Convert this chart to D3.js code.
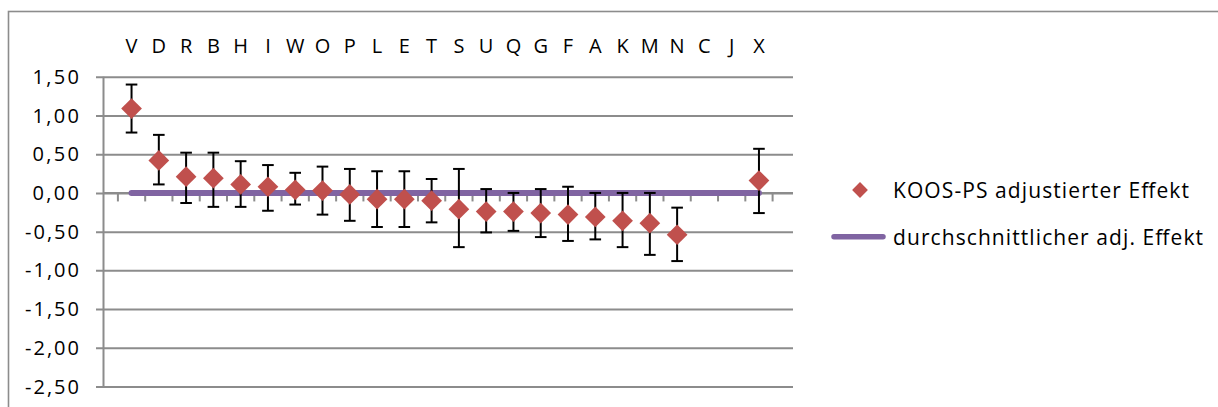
<!DOCTYPE html>
<html>
<head>
<meta charset="utf-8">
<script src="https://cdn.jsdelivr.net/npm/d3@7"></script>
<style>
  html, body { margin: 0; padding: 0; background: #fff; }
  svg { display: block; }
  text { font-family: "Open Sans", "Liberation Sans", sans-serif; fill: #000; }
</style>
</head>
<body>
<svg id="chart" width="1218" height="407"></svg>
<script>
// ---- data ----
const categories = ["V","D","R","B","H","I","W","O","P","L","E","T","S","U","Q","G","F","A","K","M","N","C","J","X"];
const effect = [1.09,0.42,0.21,0.19,0.11,0.08,0.04,0.03,-0.02,-0.08,-0.08,-0.10,-0.21,-0.24,-0.24,-0.26,-0.28,-0.31,-0.36,-0.39,-0.54,null,null,0.16];
const upperCI = [1.40,0.75,0.52,0.52,0.41,0.36,0.26,0.34,0.31,0.28,0.28,0.18,0.31,0.05,0.00,0.05,0.08,0.00,0.00,0.00,-0.19,null,null,0.57];
const lowerCI = [0.78,0.11,-0.13,-0.18,-0.18,-0.23,-0.15,-0.28,-0.36,-0.44,-0.44,-0.38,-0.70,-0.51,-0.49,-0.57,-0.62,-0.60,-0.70,-0.80,-0.88,null,null,-0.26];
const avgEffect = 0.0;
const yTicks = [1.5,1.0,0.5,0.0,-0.5,-1.0,-1.5,-2.0,-2.5];
const seriesNames = ["KOOS-PS adjustierter Effekt","durchschnittlicher adj. Effekt"];

// ---- layout ----
const svg = d3.select("#chart");
const plotLeft = 104, plotRight = 793;
const gridColor = "#8c8c8c";
const red = "#C0504D", purple = "#8064A2";

const x = d3.scaleBand().domain(categories).range([117.9, 772.6]).paddingInner(0).paddingOuter(0);
const y = d3.scaleLinear().domain([-2.5, 1.5]).range([386.5, 76.8]);
const cx = c => x(c) + x.bandwidth() / 2;

const loc = d3.formatLocale({decimal: ",", thousands: ".", grouping: [3], currency: ["", "€"], minus: "-"});
const fmt = loc.format(".2f");

// outer chart border
svg.append("rect").attr("x", 8.5).attr("y", 11.5).attr("width", 1300).attr("height", 500)
  .attr("fill", "#fff").attr("stroke", gridColor).attr("stroke-width", 1.6);

// y axis with gridlines
const yAxis = d3.axisLeft(y).tickValues(yTicks).tickSize(plotRight - 96).tickFormat("");
const gy = svg.append("g").attr("transform", `translate(${plotRight},0)`).call(yAxis);
gy.select(".domain").remove();
gy.selectAll(".tick line").attr("stroke", gridColor).attr("stroke-width", 2);

// y labels
svg.append("g").selectAll("text").data(yTicks).join("text")
  .attr("x", 79).attr("y", d => y(d)).attr("dy", "0.35em")
  .attr("text-anchor", "end").attr("font-size", 20)
  .attr("textLength", d => d < 0 ? 54 : 46.5).attr("lengthAdjust", "spacing")
  .text(d => fmt(d));

// y axis line
svg.append("line").attr("x1", 103.5).attr("x2", 103.5).attr("y1", y(1.5)).attr("y2", y(-2.5))
  .attr("stroke", gridColor).attr("stroke-width", 2);

// category axis at y=0 with ticks between categories
const tickPos = categories.map(c => x(c)).concat([x(categories[categories.length - 1]) + x.bandwidth()]);
svg.append("line").attr("x1", plotLeft).attr("x2", plotRight).attr("y1", y(0)).attr("y2", y(0))
  .attr("stroke", gridColor).attr("stroke-width", 2);
svg.append("g").selectAll("line").data(tickPos).join("line")
  .attr("x1", d => d).attr("x2", d => d).attr("y1", y(0)).attr("y2", y(0) + 8.5)
  .attr("stroke", gridColor).attr("stroke-width", 2);

// category labels on top
svg.append("g").selectAll("text").data(categories).join("text")
  .attr("x", d => cx(d)).attr("y", 52.7).attr("text-anchor", "middle").attr("font-size", 20)
  .text(d => d);

// average line
svg.append("line")
  .attr("x1", cx(categories[0])).attr("x2", cx(categories[categories.length - 1]))
  .attr("y1", y(avgEffect)).attr("y2", y(avgEffect))
  .attr("stroke", purple).attr("stroke-width", 6).attr("stroke-linecap", "round");

// error bars
const pts = categories.map((c, i) => ({c, v: effect[i], hi: upperCI[i], lo: lowerCI[i]})).filter(d => d.v !== null);
const eb = svg.append("g").attr("stroke", "#000").attr("stroke-width", 2);
eb.selectAll(".v").data(pts).join("line")
  .attr("x1", d => cx(d.c)).attr("x2", d => cx(d.c)).attr("y1", d => y(d.hi)).attr("y2", d => y(d.lo));
eb.selectAll(".h").data(pts).join("line")
  .attr("x1", d => cx(d.c) - 5.8).attr("x2", d => cx(d.c) + 5.8).attr("y1", d => y(d.hi)).attr("y2", d => y(d.hi));
eb.selectAll(".l").data(pts).join("line")
  .attr("x1", d => cx(d.c) - 5.8).attr("x2", d => cx(d.c) + 5.8).attr("y1", d => y(d.lo)).attr("y2", d => y(d.lo));

// diamonds
const diamond = d3.symbol().type(d3.symbolSquare).size(215);
svg.append("g").selectAll("path").data(pts).join("path")
  .attr("d", diamond)
  .attr("transform", d => `translate(${cx(d.c)},${y(d.v)}) rotate(45)`)
  .attr("fill", red);

// legend
const lg = svg.append("g");
lg.append("path").attr("d", d3.symbol().type(d3.symbolSquare).size(125))
  .attr("transform", "translate(860,190) rotate(45)").attr("fill", red);
lg.append("text").attr("x", 893).attr("y", 198).attr("font-size", 21)
  .attr("textLength", 296).attr("lengthAdjust", "spacing").text(seriesNames[0]);
lg.append("line").attr("x1", 834).attr("x2", 883).attr("y1", 236.7).attr("y2", 236.7)
  .attr("stroke", purple).attr("stroke-width", 5.5).attr("stroke-linecap", "round");
lg.append("text").attr("x", 893).attr("y", 244.5).attr("font-size", 21)
  .attr("textLength", 310).attr("lengthAdjust", "spacing").text(seriesNames[1]);
</script>
</body>
</html>
